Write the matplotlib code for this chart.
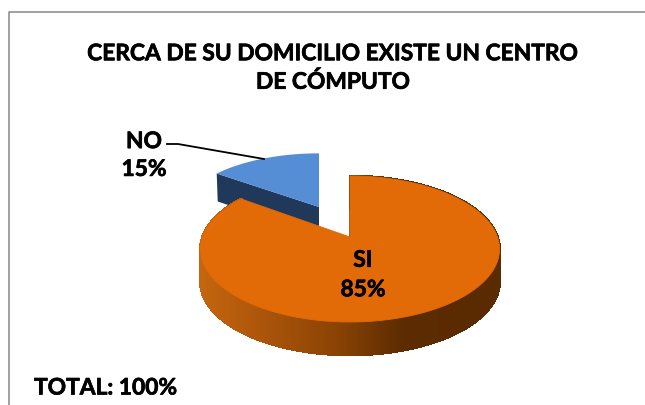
import numpy as np
import matplotlib
matplotlib.use("Agg")
import matplotlib.pyplot as plt
import matplotlib.patheffects as pe
from matplotlib.patches import Polygon
from matplotlib.collections import PolyCollection
from matplotlib.colors import LinearSegmentedColormap

categories = ["SI", "NO"]
values = [85, 15]
title = "CERCA DE SU DOMICILIO EXISTE UN CENTRO\nDE CÓMPUTO"
footer = "TOTAL: 100%"

plt.rcParams['font.family'] = ['Lato', 'DejaVu Sans']
fig = plt.figure(figsize=(6.45, 4.05), dpi=100)
ax = fig.add_axes([0, 0, 1, 1])
ax.set_xlim(0, 645); ax.set_ylim(405, 0); ax.axis('off')

# perspective projection of the unit pie disc on the page
CX, CY, A, B, P = 350.0, 237.0, 147.5, 71.0, 0.1644
def project(u, v):
    d = 1 + P * v
    return CX + A * u / d, CY - B * v / d

def slice_xy(f0, f1, n=200):
    """Arc between two cumulative fractions, clockwise from 12 o'clock."""
    th = 2 * np.pi * np.linspace(f0, f1, n)
    return project(np.sin(th), np.cos(th))

total = sum(values)
f_si = values[0] / total

# frame: the right and bottom sides run off the picture
ax.plot([8.5, 8.5, 645], [405, 12, 12], color='#9a9a9a', lw=1.3, zorder=1)

# NO slice: pulled out from the pie
NO_DX, NO_DY, NO_SX, NO_SY, NO_DEPTH = -31, -30, 0.94, 0.88, 28
def no_map(x, y):
    return CX + NO_DX + (x - CX) * NO_SX, CY + NO_DY + (y - CY) * NO_SY
xn, yn = no_map(*slice_xy(f_si, 1.0))
ax_, ay_ = no_map(CX, CY)
wall = [(ax_, ay_), (xn[0], yn[0]), (xn[0] + 1, yn[0] + NO_DEPTH), (ax_, ay_ + NO_DEPTH)]
ax.add_patch(Polygon(wall, closed=True, fc='#20395B', ec='none', zorder=2))
ax.add_patch(Polygon(np.r_[[(ax_, ay_)], np.c_[xn, yn]], closed=True, fc='#558ED5', ec='none', zorder=3))

# SI slice side wall with a left-to-right gradient
SI_DEPTH = 33
xs, ys = slice_xy(0, f_si, 600)
cmap = LinearSegmentedColormap.from_list('rim', ['#C4650F', '#A9530A', '#8A4303', '#5C2B02', '#5A2A00'])
quads, cols = [], []
for i in range(len(xs) - 1):
    quads.append([(xs[i], ys[i]), (xs[i + 1], ys[i + 1]),
                  (xs[i + 1], ys[i + 1] + SI_DEPTH), (xs[i], ys[i] + SI_DEPTH)])
    cols.append(cmap(np.clip((xs[i] - 201) / 270, 0, 1)))
ax.add_collection(PolyCollection(quads, facecolors=cols, edgecolors=cols, linewidths=1.2, zorder=4,
                                 antialiased=False))
# inner edge at the start of the slice
ax.plot([xs[0], CX], [ys[0], CY], color='#6b3303', lw=1.2, zorder=4.5)
ax.add_patch(Polygon(np.r_[[(CX, CY)], np.c_[xs, ys]], closed=True, fc='#E26B08', ec='#E26B08', lw=0.6, zorder=5))

# leader line
ax.plot([167, 178, 264], [144, 144, 159], color='black', lw=1.3, zorder=6)

# texts
heavy = [pe.withStroke(linewidth=0.5, foreground='black')]
tkw = dict(fontweight='bold', color='black', ha='center', va='center', zorder=7, path_effects=heavy)
ax.text(333, 68, title, fontsize=16.4, linespacing=1.4, **tkw)
ax.text(144, 155.5, f"{categories[1]}\n{values[1]}%", fontsize=16.4, linespacing=1.4, **tkw)
ax.text(363, 275, f"{categories[0]}\n{values[0]}%", fontsize=16.4, linespacing=1.5, **tkw)
ax.text(34, 388, footer, fontsize=16.4, fontweight='bold', color='black', ha='left', va='center',
        zorder=7, path_effects=heavy)

fig.savefig("out.png", dpi=100)
